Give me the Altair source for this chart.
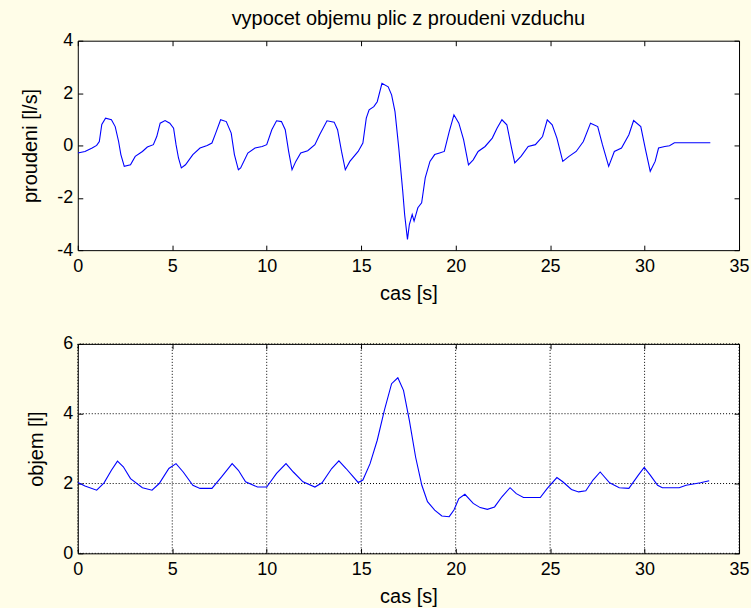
import altair as alt
import pandas as pd

# --- flow signal (l/s) over time (s) ---
t_flow = [0.0, 0.38, 0.76, 1.0, 1.14, 1.27, 1.47, 1.78, 1.98, 2.16, 2.28, 2.46, 2.79, 3.04,
          3.42, 3.68, 4.0, 4.18, 4.36, 4.62, 4.87, 5.07, 5.2, 5.33, 5.48, 5.7, 6.09, 6.47,
          6.85, 7.1, 7.3, 7.56, 7.86, 8.12, 8.29, 8.5, 8.62, 9.0, 9.38, 9.76, 10.0, 10.27,
          10.52, 10.78, 10.98, 11.16, 11.34, 11.54, 11.8, 12.17, 12.55, 12.8, 13.19, 13.57,
          13.75, 13.96, 14.16, 14.4, 14.84, 15.09, 15.27, 15.42, 15.67, 15.85, 16.1, 16.43,
          16.61, 16.79, 16.99, 17.2, 17.3, 17.45, 17.55, 17.7, 17.8, 18.0, 18.2, 18.39,
          18.64, 18.89, 19.15, 19.4, 19.66, 19.91, 20.17, 20.42, 20.68, 20.93, 21.19, 21.56,
          21.94, 22.19, 22.45, 22.71, 22.96, 23.13, 23.46, 23.84, 24.22, 24.6, 24.85, 25.11,
          25.36, 25.67, 26.0, 26.38, 26.76, 27.14, 27.52, 27.77, 28.1, 28.4, 28.78, 29.17,
          29.42, 29.8, 30.05, 30.3, 30.56, 30.74, 31.07, 31.32, 31.58, 33.48]
flow = [-0.29, -0.23, -0.1, 0.0, 0.15, 0.8, 1.04, 0.98, 0.72, 0.15, -0.35, -0.8, -0.74, -0.42,
        -0.23, -0.06, 0.03, 0.34, 0.85, 0.95, 0.85, 0.66, 0.03, -0.48, -0.86, -0.74, -0.35, -0.1,
        0.0, 0.09, 0.47, 0.98, 0.91, 0.47, -0.35, -0.93, -0.86, -0.29, -0.1, -0.04, 0.03, 0.6,
        0.94, 0.91, 0.6, -0.23, -0.93, -0.61, -0.29, -0.2, 0.03, 0.41, 0.94, 0.89,
        0.6, -0.23, -0.93, -0.61, -0.23, 0.09, 1.04, 1.36, 1.48, 1.67, 2.37, 2.24,
        1.93, 1.29, -0.1, -1.75, -2.64, -3.59, -3.02, -2.64, -2.89, -2.38, -2.19, -1.24,
        -0.61, -0.35, -0.29, -0.23, 0.53, 1.17, 0.85, 0.22, -0.74, -0.55, -0.23, -0.04,
        0.28, 0.66, 0.98, 0.79, -0.1, -0.67, -0.42, -0.04, 0.03, 0.34, 0.98, 0.79,
        0.28, -0.61, -0.42, -0.23, 0.15, 0.85, 0.72, 0.03, -0.8, -0.23, -0.1, 0.41,
        0.95, 0.72, -0.16, -0.99, -0.61, -0.1, -0.04, -0.01, 0.1, 0.1]

# --- lung volume (l) over time (s) ---
t_vol = [0.0, 0.38, 1.0, 1.39, 1.78, 2.1, 2.41, 2.79, 3.42, 3.93, 4.31, 4.82, 5.2, 5.58,
         6.09, 6.47, 7.1, 7.61, 8.17, 8.5, 8.88, 9.51, 10.0, 10.52, 11.02, 11.41, 11.92,
         12.55, 12.93, 13.44, 13.82, 14.2, 14.84, 15.09, 15.47, 15.85, 16.23, 16.61, 16.94,
         17.24, 17.55, 17.88, 18.21, 18.51, 18.89, 19.27, 19.66, 19.91, 20.17, 20.49, 20.93,
         21.3, 21.68, 22.06, 22.45, 22.88, 23.21, 23.59, 24.48, 24.85, 25.36, 25.67, 26.13,
         26.51, 26.89, 27.27, 27.65, 28.15, 28.66, 29.17, 29.67, 29.98, 30.3, 30.69, 30.94,
         31.83, 32.2, 32.96, 33.42]
vol = [2.03, 1.93, 1.81, 2.02, 2.38, 2.64, 2.48, 2.14, 1.88, 1.81, 2.0, 2.43, 2.57, 2.33,
       1.95, 1.86, 1.86, 2.19, 2.57, 2.38, 2.05, 1.9, 1.9, 2.29, 2.57, 2.33, 2.05,
       1.9, 2.02, 2.43, 2.65, 2.43, 2.03, 2.1, 2.57, 3.24, 4.1, 4.86, 5.03,
       4.67, 3.81, 2.76, 1.95, 1.48, 1.24, 1.07, 1.05, 1.24, 1.57, 1.69, 1.43,
       1.31, 1.26, 1.33, 1.62, 1.88, 1.71, 1.6, 1.6, 1.86, 2.17, 2.05, 1.83,
       1.76, 1.79, 2.1, 2.33, 2.02, 1.88, 1.86, 2.24, 2.46, 2.24, 1.95, 1.88,
       1.88, 1.95, 2.02, 2.08]

x_ticks = [0, 5, 10, 15, 20, 25, 30, 35]
flow_ticks = [-4, -2, 0, 2, 4]
vol_ticks = [0, 2, 4, 6]

FONT = "Liberation Sans"
W, H = 663, 210
TICK = 5

flow_df = pd.DataFrame({"t": t_flow, "v": flow})
vol_df = pd.DataFrame({"t": t_vol, "v": vol})


def axis(orient, values, title=None, labels=True):
    # ticks point into the plot: the axis is pulled inside by the tick length
    kw = dict(orient=orient, values=values, offset=-TICK, tickSize=TICK, domain=False,
              tickColor="#000000", tickWidth=1, grid=False, labels=labels,
              minExtent=0, maxExtent=200,
              labelFont=FONT, labelFontSize=18, labelColor="#000000",
              labelExpr="'' + datum.value",
              titleFont=FONT, titleFontSize=20, titleFontWeight="normal", titleColor="#000000")
    if orient == "bottom":
        kw.update(labelFlush=False, labelPadding=7, titlePadding=8)
    if orient == "left":
        kw.update(labelPadding=5, titlePadding=16)
    kw["title"] = title
    return alt.Axis(**kw)


def panel(df, ydomain, yticks, ytitle, with_grid=False, title=None):
    xs = alt.Scale(domain=[0, 35], nice=False, zero=False)
    ys = alt.Scale(domain=ydomain, nice=False, zero=False)
    layers = []
    if with_grid:
        gx = alt.Chart(pd.DataFrame({"t": x_ticks})).mark_rule(
            color="#000000", strokeDash=[1, 2], strokeWidth=1
        ).encode(x=alt.X("t:Q", scale=xs, axis=None))
        gy = alt.Chart(pd.DataFrame({"v": yticks})).mark_rule(
            color="#000000", strokeDash=[1, 2], strokeWidth=1
        ).encode(y=alt.Y("v:Q", scale=ys, axis=None))
        layers += [gx, gy]
    line = alt.Chart(df).mark_line(color="#0000FF", strokeWidth=1.1, clip=True).encode(
        x=alt.X("t:Q", scale=xs, axis=axis("bottom", x_ticks, "cas [s]")),
        y=alt.Y("v:Q", scale=ys, axis=axis("left", yticks, ytitle)),
        order="t:Q",
    )
    mirror = alt.Chart(df).mark_line(opacity=0).encode(
        x=alt.X("t:Q", scale=xs, axis=axis("top", x_ticks, labels=False)),
        y=alt.Y("v:Q", scale=ys, axis=axis("right", yticks, labels=False)),
    )
    layers += [line, mirror]
    ch = alt.layer(*layers).properties(width=W, height=H)
    if title:
        ch = ch.properties(title=alt.Title(title, font=FONT, fontSize=20, fontWeight="normal",
                                           color="#000000", anchor="middle", offset=-13,
                                           frame="group", baseline="alphabetic"))
    return ch


top = panel(flow_df, [-4, 4], flow_ticks, "proudeni [l/s]",
            title="vypocet objemu plic z proudeni vzduchu")
bottom = panel(vol_df, [0, 6], vol_ticks, "objem [l]", with_grid=True)

chart = alt.vconcat(top, bottom, spacing=94, bounds="flush").properties(
    padding={"left": 20, "top": 7, "right": 1, "bottom": 2},
    background="#FFFDE8",
).configure_view(stroke="#000000", strokeWidth=1, fill="#FFFFFF")

chart.save("out.html", embed_options={"renderer": "svg", "actions": False})
